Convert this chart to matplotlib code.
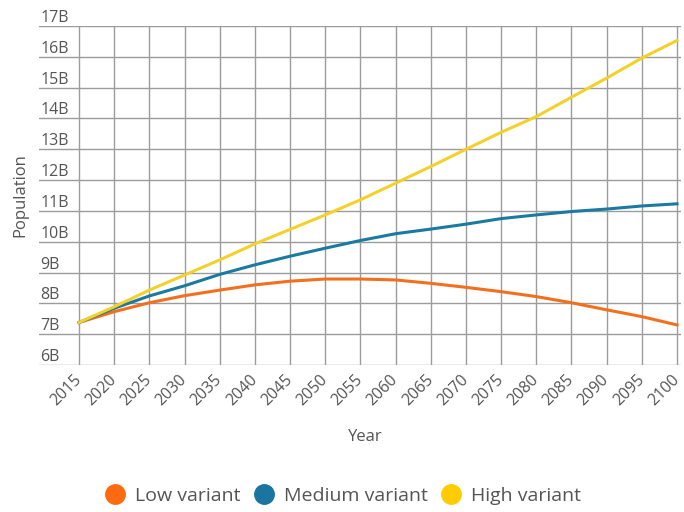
import matplotlib.pyplot as plt
import matplotlib.transforms as mtrans
from matplotlib.lines import Line2D

plt.rcParams['font.family'] = ['Open Sans', 'DejaVu Sans']

# years and population projections (billions)
years = list(range(2015, 2101, 5))
low = [7.38, 7.73, 8.02, 8.25, 8.43, 8.60, 8.72, 8.79, 8.79, 8.76,
       8.65, 8.52, 8.38, 8.22, 8.02, 7.79, 7.57, 7.30]
medium = [7.38, 7.84, 8.24, 8.57, 8.94, 9.25, 9.53, 9.79, 10.04, 10.26,
          10.41, 10.57, 10.75, 10.87, 10.98, 11.06, 11.16, 11.23]
high = [7.38, 7.89, 8.43, 8.92, 9.41, 9.93, 10.40, 10.87, 11.36, 11.90,
        12.44, 13.00, 13.55, 14.06, 14.69, 15.31, 15.96, 16.53]
y_ticks = list(range(6, 18))
series_names = ['Low variant', 'Medium variant', 'High variant']

c_low = '#F36F1E'
c_med = '#1A7AA0'
c_high = '#F2D22A'
txt = '#555555'
grid_c = '#9c9c9c'

fig = plt.figure(figsize=(6.84, 5.12), dpi=100)
ax = fig.add_axes([39/684, 1-365/512, 642/684, 339/512])

ax.plot(years, low, color=c_low, lw=2.2, zorder=3)
ax.plot(years, medium, color=c_med, lw=2.2, zorder=3)
ax.plot(years, high, color=c_high, lw=2.2, zorder=3)

ax.set_xlim(2015 - 40/7.035, 2100 + 4/7.035)
ax.set_ylim(6, 17)

ax.set_xticks(years)
ax.set_xticklabels([str(y) for y in years], rotation=45, ha='right',
                   va='center', rotation_mode='anchor')
# nudge the slanted year labels to the right like the original
shift = mtrans.ScaledTranslation(8/100, -5/100, fig.dpi_scale_trans)
for lab in ax.get_xticklabels():
    lab.set_transform(lab.get_transform() + shift)

ax.set_yticks(y_ticks)
ax.set_yticklabels([f'{v}B' for v in y_ticks])
for lab in ax.get_yticklabels():
    lab.set_ha('left')
    lab.set_va('bottom')
ax.tick_params(axis='y', length=0, pad=-1, labelsize=11.5, labelcolor=txt)
ax.tick_params(axis='x', length=0, pad=9, labelsize=11.5, labelcolor=txt)

ax.grid(True, color=grid_c, lw=1.0)
ax.set_axisbelow(True)
for s in ax.spines.values():
    s.set_visible(False)

ax.set_xlabel('Year', fontsize=12, color=txt)
ax.xaxis.set_label_coords(0.508, -0.19)
ax.set_ylabel('Population', fontsize=12, color=txt)
ax.yaxis.set_label_coords(-0.017, 0.5)

handles = [Line2D([], [], ls='none', marker='o', markersize=14, color=c)
           for c in ['#FF6A10', '#1A75A0', '#FFCC00']]
fig.legend(handles, series_names, loc='center', bbox_to_anchor=(0.5, 1-496/512),
           ncol=3, frameon=False, fontsize=14, handlelength=1.2,
           handletextpad=0.43, columnspacing=0.6, labelcolor=txt)

fig.savefig('out.png', dpi=100)
